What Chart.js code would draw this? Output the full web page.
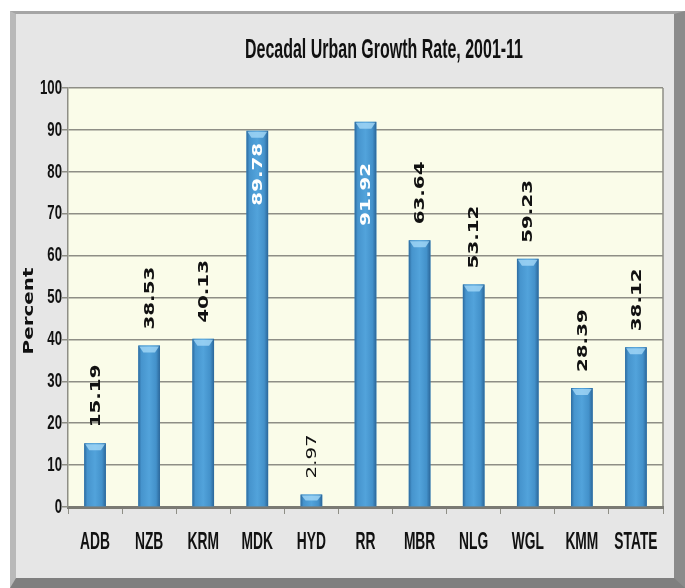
<!DOCTYPE html>
<html lang="en">
  <head>
    <meta charset="utf-8" />
    <title>Decadal Urban Growth Rate, 2001-11</title>
    <style>
      * {
        margin: 0;
        padding: 0;
      }
      body {
        width: 685px;
        height: 588px;
        background: #fff;
        position: relative;
        overflow: hidden;
      }
      .frame {
        position: absolute;
        left: 10px;
        top: 11px;
        width: 675px;
        height: 577px;
        box-sizing: border-box;
        background: #e6e6e6;
        border-left: 6px solid #b9b9b9;
        border-top: 3px solid #a5a5a5;
        border-right: 11px solid #8b8b8b;
        border-bottom: 10px solid #7f7f7f;
      }
      .chartBox {
        position: absolute;
        left: 0;
        top: 0;
        width: 685px;
        height: 588px;
      }
    </style>
  </head>
  <body>
    <div class="frame"></div>
    <div class="chartBox">
      <canvas id="myChart" width="685" height="588"></canvas>
    </div>

    <script src="https://cdn.jsdelivr.net/npm/chart.js@4"></script>

    <script>
      // data block
      const districts = ["ADB", "NZB", "KRM", "MDK", "HYD", "RR", "MBR", "NLG", "WGL", "KMM", "STATE"];
      const growthRate = [15.19, 38.53, 40.13, 89.78, 2.97, 91.92, 63.64, 53.12, 59.23, 28.39, 38.12];
      const yTicks = [0, 10, 20, 30, 40, 50, 60, 70, 80, 90, 100];

      const sans = "'Liberation Sans', Arial, sans-serif";

      // narrow text: no condensed face is installed, so squeeze horizontally
      function narrowText(ctx, txt, x, y, size, squeeze, align) {
        ctx.save();
        ctx.font = "bold " + size + "px " + sans;
        ctx.textBaseline = "middle";
        const w = ctx.measureText(txt).width * squeeze;
        let left = x;
        if (align === "center") left = x - w / 2;
        if (align === "right") left = x - w;
        ctx.translate(left, y);
        ctx.scale(squeeze, 1);
        ctx.textAlign = "left";
        ctx.fillText(txt, 0, 0);
        ctx.restore();
      }

      // plot background + right border
      const plotBg = {
        id: "plotBg",
        beforeDraw(chart) {
          const { ctx, chartArea: a } = chart;
          ctx.save();
          ctx.fillStyle = "#fafce9";
          ctx.fillRect(a.left, a.top, a.right - a.left, a.bottom - a.top);
          ctx.strokeStyle = "#8e8e86";
          ctx.lineWidth = 1.5;
          ctx.beginPath();
          ctx.moveTo(a.right, a.top);
          ctx.lineTo(a.right, a.bottom);
          ctx.stroke();
          ctx.restore();
        },
      };

      // title, tick labels and axis title in the narrow look
      const textPlugin = {
        id: "textPlugin",
        afterDraw(chart) {
          const { ctx, scales } = chart;
          ctx.save();
          ctx.fillStyle = "#111";
          ctx.font = "bold 27px " + sans;
          const tw = ctx.measureText("Decadal Urban Growth Rate, 2001-11").width;
          narrowText(ctx, "Decadal Urban Growth Rate, 2001-11", 384, 51, 27, 278 / tw, "center");
          scales.y.ticks.forEach((t) => {
            narrowText(ctx, String(t.value), 62, scales.y.getPixelForValue(t.value), 21, 0.63, "right");
          });
          chart.data.labels.forEach((lab, i) => {
            narrowText(ctx, lab, scales.x.getPixelForTick(i), 543, 23, 0.6, "center");
          });
          // y-axis title, stretched along its length like the value labels
          ctx.translate(29, 311);
          ctx.rotate(-Math.PI / 2);
          ctx.font = "bold 14px 'DejaVu Sans', sans-serif";
          ctx.scale(1.42, 1);
          ctx.textAlign = "center";
          ctx.textBaseline = "middle";
          ctx.fillText("Percent", 0, 0);
          ctx.restore();
        },
      };

      // bar shading and vertical value labels; two tall bars carry them inside in white
      const insideOffset = { 3: 12, 5: 41 };
      const valueLabels = {
        id: "valueLabels",
        afterDatasetsDraw(chart) {
          const { ctx } = chart;
          const meta = chart.getDatasetMeta(0);
          ctx.save();
          meta.data.forEach((bar) => {
            const l = bar.x - bar.width / 2;
            const r = bar.x + bar.width / 2;
            const g = ctx.createLinearGradient(l, 0, r, 0);
            g.addColorStop(0, "#2c6a9e");
            g.addColorStop(0.14, "#4694cd");
            g.addColorStop(0.5, "#52a3db");
            g.addColorStop(0.82, "#4391ca");
            g.addColorStop(1, "#2b6699");
            ctx.fillStyle = g;
            ctx.fillRect(l, bar.y, r - l, bar.base - bar.y);
            // light bevel at the top
            const cap = Math.min(7, (bar.base - bar.y) / 2);
            ctx.fillStyle = "rgba(170, 220, 250, 0.75)";
            ctx.beginPath();
            ctx.moveTo(l + 1, bar.y + 1);
            ctx.lineTo(r - 1, bar.y + 1);
            ctx.lineTo(r - 5, bar.y + cap);
            ctx.lineTo(l + 5, bar.y + cap);
            ctx.closePath();
            ctx.fill();
          });

          ctx.textBaseline = "middle";
          ctx.textAlign = "left";
          meta.data.forEach((bar, i) => {
            const txt = growthRate[i].toFixed(2);
            const bold = i === 4 ? "" : "bold ";
            ctx.font = bold + "14px 'DejaVu Sans', sans-serif";
            const stretch = 1.42;
            const w = ctx.measureText(txt).width * stretch;
            ctx.save();
            ctx.translate(bar.x + 1, 0);
            ctx.rotate(-Math.PI / 2);
            // rotated: +x points up the page
            let start;
            if (i in insideOffset) {
              ctx.fillStyle = "#ffffff";
              start = -(bar.y + insideOffset[i] + w);
            } else {
              ctx.fillStyle = "#111";
              start = -(bar.y - 16);
            }
            ctx.translate(start, 0);
            ctx.scale(stretch, 1);
            ctx.fillText(txt, 0, 0);
            ctx.restore();
          });
          ctx.restore();
        },
      };

      // config block
      const data = {
        labels: districts,
        datasets: [
          {
            label: "Decadal Urban Growth Rate",
            data: growthRate,
            backgroundColor: "#4a9bd4",
            borderWidth: 0,
            barPercentage: 0.4,
            categoryPercentage: 1,
          },
        ],
      };

      const config = {
        type: "bar",
        data: data,
        options: {
          responsive: false,
          animation: false,
          layout: {
            padding: { left: 62, right: 22, top: 88, bottom: 74 },
          },
          plugins: {
            legend: { display: false },
            tooltip: { enabled: false },
          },
          scales: {
            x: {
              grid: {
                offset: true,
                drawOnChartArea: false,
                color: "#8e8e86",
                tickLength: 7,
              },
              border: { color: "#7a7a74", width: 3 },
              ticks: { display: false },
            },
            y: {
              min: 0,
              max: 100,
              afterBuildTicks(axis) {
                axis.ticks = yTicks.map((v) => ({ value: v }));
              },
              grid: {
                color: "#8e8e86",
                lineWidth: 1.5,
                tickLength: 6,
              },
              border: { color: "#8e8e86", width: 1.5 },
              ticks: { display: false },
            },
          },
        },
        plugins: [plotBg, valueLabels, textPlugin],
      };

      // init render block
      const ctx = document.getElementById("myChart");
      const myChart = new Chart(ctx, config);
    </script>
  </body>
</html>
